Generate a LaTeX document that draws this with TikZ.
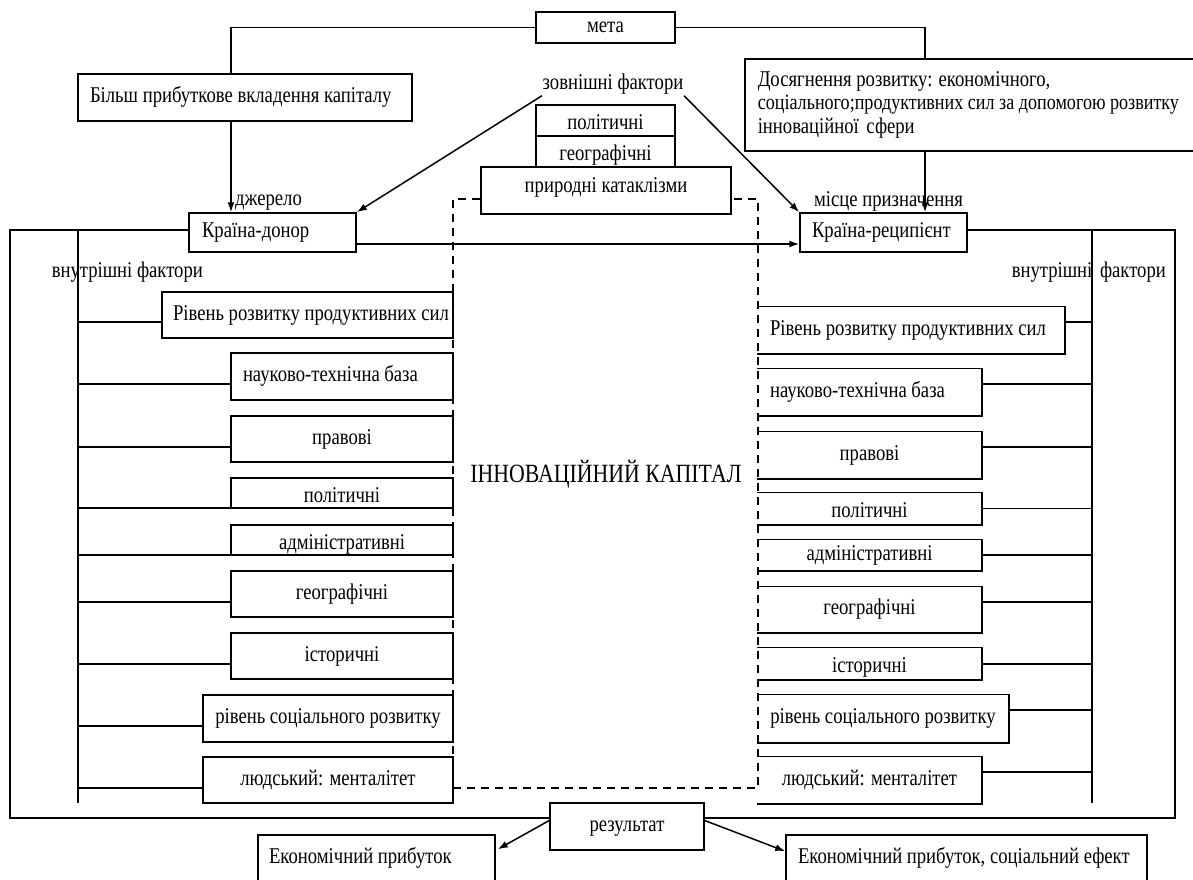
\documentclass[tikz,border=0pt]{standalone}
\usepackage{fontspec}
\setmainfont{Liberation Serif}[FakeStretch=0.83]
\usetikzlibrary{arrows.meta,calc}
\begin{document}
\begin{tikzpicture}[x=1pt,y=-1pt,line width=1.5pt,
  every node/.style={inner sep=0pt,font=\fontsize{22.5}{25}\selectfont,text height=16pt,text depth=6pt},
  box/.style={draw,line width=1.5pt},
  low/.style={text height=20pt,text depth=2pt},
  high/.style={text height=12.5pt,text depth=9.5pt},
  arr/.style={-{Latex[length=10pt,width=7pt]}},
  dsh/.style={dash pattern=on 8pt off 6pt}]
\useasboundingbox (0,0) rectangle (1193,879);
\fill[white] (0,0) rectangle (1193,879);

% top
\node[box,minimum width=139pt,minimum height=31pt] (meta) at (605.5,27.5) {мета};
\node[box,minimum width=334pt,minimum height=47pt] (bilsh) at (245,97.5) {};
\node[anchor=west] (bilsht) at ($(bilsh.west)+(12,0)$) {Більш прибуткове вкладення капіталу};
\node (zovn) at (613,84) {зовнішні фактори};
\node[box,low,minimum width=139pt,minimum height=31pt] (polt) at (605.5,120.5) {політичні};
\node[box,low,minimum width=139pt,minimum height=31pt] (geot) at (605.5,151.5) {географічні};
\node[box,high,minimum width=250pt,minimum height=47pt] (prir) at (606,190.5) {природні катаклізми};
\node[box,minimum width=455pt,minimum height=92pt] (dos) at (972.5,105) {};
\node[anchor=west] (dos1) at (757,81) {Досягнення розвитку: економічного,};
\node[anchor=west,font=\fontsize{21.8}{25}\selectfont] (dos2) at (757,104.5) {соціального;продуктивних сил за допомогою розвитку};
\node[anchor=west] (dos3) at (757,128) {інноваційної\hspace{3pt} сфери};

% countries
\node[box,minimum width=167pt,minimum height=39pt] (donor) at (272.5,232.5) {};
\node[anchor=west] (donort) at ($(donor.west)+(13,0)$) {Країна-донор};
\node[box,minimum width=167pt,minimum height=39pt] (recip) at (883.5,232.5) {};
\node[anchor=west] (recipt) at ($(recip.west)+(12,0)$) {Країна-реципієнт};
\node (dzh) at (268.5,200) {джерело};
\node (mis) at (888.5,201) {місце призначення};

% helper coordinates
\coordinate (xL) at (231,0);
\coordinate (xR) at (925,0);
\coordinate (yH) at (0,244);
\coordinate (yF) at (0,230);
\coordinate (fBL) at (10,818);
\coordinate (fBR) at (1175,818);
\coordinate (xIL) at (78,230);
\coordinate (xIR) at (1092,230);
\coordinate (yIB) at (0,803);
\coordinate (dTL) at (453,199);
\coordinate (dTR) at (758,199);
\coordinate (dBL) at (453,788);
\coordinate (dBR) at (758,788);

% frame
\draw (donor.west |- yF) -| (fBL) -- (fBR) |- (recip.east |- yF);
\draw (xIL) -- (xIL |- yIB);
\draw (xIR) -- (xIR |- yIB);

\node[anchor=west] (vnL) at (51,272) {внутрішні фактори};
\node[anchor=west] (vnR) at (1011,272) {внутрішні\hspace{3pt} фактори};

% top connectors
\draw (meta.west) -| (xL |- bilsh.north);
\draw[arr] (xL |- bilsh.south) -- (xL |- donor.north);
\draw (meta.east) -| (xR |- dos.north);
\draw[arr] (xR |- dos.south) -- (xR |- recip.north);
\draw[arr] (zovn.south west) -- (donor.north east);
\draw[arr] (zovn.south east) -- (recip.north west);
\draw[arr] (donor.east |- yH) -- (recip.west |- yH);

% dashed innovation capital frame
\draw[dsh] (prir.west |- dTL) -- (dTL) -- (dBL) -- (dBR) -- (dTR) -- (prir.east |- dTR);
\node[font=\fontsize{26.3}{29}\selectfont] (title) at (606,477) {ІННОВАЦІЙНИЙ КАПІТАЛ};

% left factors
\node[box,minimum width=291pt,minimum height=46pt] (L1) at (307.5,315) {};
\node[anchor=west] (L1t) at ($(L1.west)+(11,0)$) {Рівень розвитку продуктивних сил};
\node[box,minimum width=222pt,minimum height=47pt] (L2) at (342,376.5) {};
\node[anchor=west] (L2t) at ($(L2.west)+(12,0)$) {науково-технічна база};
\node[box,minimum width=222pt,minimum height=46pt] (L3) at (342,439) {правові};
\node[box,low,minimum width=222pt,minimum height=30pt] (L4) at (342,493) {політичні};
\node[box,low,minimum width=222pt,minimum height=30pt] (L5) at (342,540) {адміністративні};
\node[box,minimum width=222pt,minimum height=46pt] (L6) at (342,594) {географічні};
\node[box,minimum width=222pt,minimum height=46pt] (L7) at (342,656) {історичні};
\node[box,minimum width=250pt,minimum height=47pt] (L8) at (328,718.5) {рівень соціального розвитку};
\node[box,minimum width=250pt,minimum height=46pt] (L9) at (328,780) {людський: менталітет};
\foreach \nm/\dy in {L1/7,L2/7.5,L3/8,L4/15,L5/15,L6/8,L7/8,L8/7.5,L9/8}
  \draw let \p1=($(\nm.west)+(0,\dy)$), \p2=(xIL) in (\x2,\y1) -- (\p1);

% right factors
\node[minimum width=306pt,minimum height=46pt] (R1) at (911,330) {};
\node[anchor=west] (R1t) at ($(R1.west)+(12,0)$) {Рівень розвитку продуктивних сил};
\node[minimum width=223pt,minimum height=46pt] (R2) at (869.5,392) {};
\node[anchor=west] (R2t) at ($(R2.west)+(12,0)$) {науково-технічна база};
\node[minimum width=223pt,minimum height=46pt] (R3) at (869.5,455) {правові};
\node[low,minimum width=223pt,minimum height=31pt] (R4) at (869.5,508.5) {політичні};
\node[minimum width=223pt,minimum height=30pt] (R5) at (869.5,555) {адміністративні};
\node[minimum width=223pt,minimum height=45pt] (R6) at (869.5,609.5) {географічні};
\node[low,minimum width=223pt,minimum height=31pt] (R7) at (869.5,663.5) {історичні};
\node[minimum width=250pt,minimum height=47pt] (R8) at (883,718.5) {рівень соціального розвитку};
\node[minimum width=223pt,minimum height=46pt] (R9) at (869.5,780) {людський: менталітет};
\foreach \nm in {R1,R2,R3,R4,R5,R6,R7,R8,R9}
  \draw (\nm.north west) -- (\nm.north east) -- (\nm.south east) -- (\nm.south west);
\foreach \nm/\dy in {R1/-8,R2/-8,R3/-8,R4/0,R5/0,R6/-7.5,R7/0.5,R8/-8.5,R9/-8}
  \draw let \p1=($(\nm.east)+(0,\dy)$), \p2=(xIR) in (\p1) -- (\x2,\y1);

% result
\node[box,fill=white,minimum width=154pt,minimum height=47pt] (rez) at (627,826.5) {результат};
\node[box,minimum width=237pt,minimum height=46pt] (ek1) at (376.5,858) {};
\node[anchor=west] (ek1t) at ($(ek1.west)+(11,0)$) {Економічний прибуток};
\node[box,minimum width=361pt,minimum height=46pt] (ek2) at (966.5,858) {};
\node[anchor=west] (ek2t) at ($(ek2.west)+(12,0)$) {Економічний прибуток, соціальний ефект};
\draw[arr] ($(rez.west)+(0,-6)$) -- ($(ek1.north east)+(2,15)$);
\draw[arr] ($(rez.east)+(0,-6)$) -- ($(ek2.north west)+(0,17)$);
\end{tikzpicture}
\end{document}
